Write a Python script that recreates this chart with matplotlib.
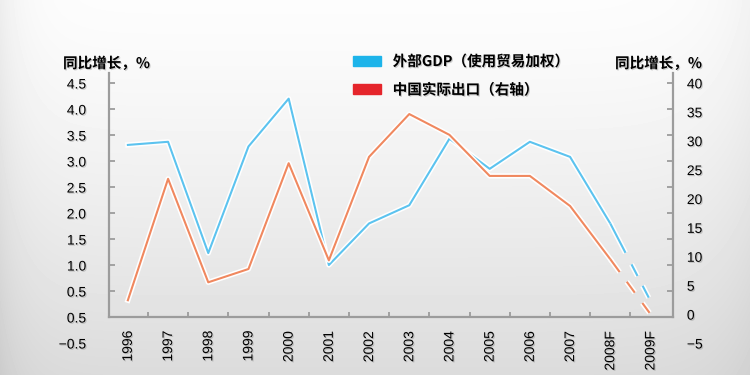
import numpy as np
import matplotlib.pyplot as plt
import matplotlib.patheffects as pe
from matplotlib.patches import Patch

plt.rcParams['font.family'] = ['Noto Sans CJK SC', 'DejaVu Sans']
plt.rcParams['lines.scale_dashes'] = False

# values
years = ['1996', '1997', '1998', '1999', '2000', '2001', '2002',
         '2003', '2004', '2005', '2006', '2007', '2008F', '2009F']
gdp = [3.31, 3.37, 1.23, 3.28, 4.20, 1.00, 1.80, 2.15, 3.43, 2.85, 3.37, 3.08, 1.80, 0.31]
exports = [2.4, 23.4, 5.5, 7.8, 26.1, 9.3, 27.2, 34.6, 31.0, 23.9, 23.9, 18.7, 9.5, 0.0]

left_ticks = [-0.5, 0, 0.5, 1.0, 1.5, 2.0, 2.5, 3.0, 3.5, 4.0, 4.5]
left_labels = ['\u22120.5', '0.5', '0.5', '1.0', '1.5', '2.0', '2.5', '3.0', '3.5', '4.0', '4.5']
right_ticks = [-5, 0, 5, 10, 15, 20, 25, 30, 35, 40]
right_labels = ['\u22125', '0', '5', '10', '15', '20', '25', '30', '35', '40']

legend_labels = ['外部GDP（使用贸易加权）', '中国实际出口（右轴）']
axis_title = '同比增长，%'

blue = '#5cc3ef'
orange = '#f0885f'
grey = '#9c9c9c'

fig = plt.figure(figsize=(7.5, 3.75), dpi=100)

# soft grey background
rows = np.linspace(0, 1, 375)[:, None]
cols = np.linspace(0, 1, 750)[None, :]
shade = 0.99 - 0.13 * rows ** 1.3 - 0.06 * np.exp(-cols / 0.03) - 0.04 * np.exp(-(1 - cols) / 0.05)
bg = fig.add_axes([0, 0, 1, 1], zorder=-10)
bg.imshow(shade, cmap='gray', vmin=0, vmax=1, aspect='auto', extent=[0, 1, 0, 1])
bg.axis('off')

ax = fig.add_axes([0.1453, 0.0853, 0.752, 0.72])
ax.patch.set_visible(False)
x = np.arange(len(years))

glow = [pe.Stroke(linewidth=3.8, foreground='white'), pe.Normal()]
shadow = [pe.withSimplePatchShadow(offset=(0.8, -0.8), shadow_rgbFace='#777777', alpha=0.35)]

ax.plot(x[:13], gdp[:13], color=blue, lw=1.5, path_effects=glow)
ax.plot(x[12:], gdp[12:], color=blue, lw=1.5, path_effects=glow,
        linestyle=(0, (23.8, 9.4, 9.4, 8.0, 9.6, 60)))
ax.set_xlim(-0.47, 13.56)
ax.set_ylim(-0.479, 4.693)

ax2 = ax.twinx()
ax2.plot(x[:13], exports[:13], color=orange, lw=1.5, path_effects=glow)
ax2.plot(x[12:], exports[12:], color=orange, lw=1.5, path_effects=glow,
         linestyle=(0, (11.5, 8.6, 9.8, 9.2, 8.8, 60)))
ax2.set_ylim(-5, 41.7)

# spines
for s in ax2.spines.values():
    s.set_visible(False)
ax.spines['top'].set_visible(False)
ax.spines['bottom'].set_position(('data', 0))
ax.spines['left'].set_bounds(0, 4.693)
ax.spines['right'].set_bounds(0, 4.693)
for s in ['left', 'right', 'bottom']:
    ax.spines[s].set_color(grey)
    ax.spines[s].set_linewidth(1.6)

# left ticks (marks on both spines, labels left)
ax.set_yticks(left_ticks, left_labels)
ax.tick_params(axis='y', direction='in', length=4.5, width=1.3, color=grey,
               left=True, right=True, labelleft=True, labelright=False,
               pad=16.5, labelsize=10, labelfontfamily='Liberation Sans')
for t in ax.yaxis.get_major_ticks()[:2]:
    t.tick1line.set_visible(False)
    t.tick2line.set_visible(False)

# x ticks: labels at years, marks in between
ax.set_xticks(x, years, rotation=90)
ax.set_xticks(x[:-1] + 0.5, minor=True)
ax.tick_params(axis='x', which='major', length=0, pad=10, labelsize=10,
               labelfontfamily='Liberation Sans')
ax.tick_params(axis='x', which='minor', direction='in', length=3.5, width=1.3, color=grey)

ax2.set_yticks(right_ticks, right_labels)
ax2.tick_params(axis='y', length=0, pad=10, labelsize=10, labelfontfamily='Liberation Sans')

for lbl in ax.get_xticklabels() + ax.get_yticklabels() + ax2.get_yticklabels():
    lbl.set_path_effects(shadow)

fig.text(63 / 750, 1 - 63 / 375, axis_title, ha='left', va='center',
         fontsize=10.5, weight='bold', path_effects=shadow)
fig.text(615 / 750, 1 - 63 / 375, axis_title, ha='left', va='center',
         fontsize=10.5, weight='bold', path_effects=shadow)

handles = [Patch(color='#1db4ea'), Patch(color='#e5252b')]
leg = fig.legend(handles, legend_labels, loc='upper left', bbox_to_anchor=(353 / 750, 1 - 53 / 375),
                 frameon=False, borderpad=0, borderaxespad=0, handlelength=1.92,
                 handleheight=0.68, handletextpad=0.8, labelspacing=0.85,
                 prop={'size': 10.5, 'weight': 'bold'})
for t in leg.get_texts():
    t.set_path_effects(shadow)

fig.savefig('out.png', dpi=100)
